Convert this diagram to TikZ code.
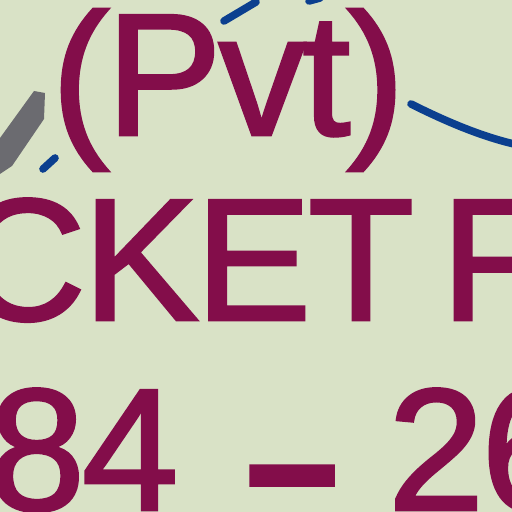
\documentclass[tikz,border=0pt]{standalone}
\usepackage{fontspec}
\setmainfont{Liberation Sans}
\newfontfamily\logofont{Liberation Sans}[FakeBold=1.6, LetterSpace=-2, WordSpace=0.6]
\definecolor{bgcol}{HTML}{D9E2C6}
\definecolor{logored}{HTML}{830D4A}
\definecolor{seamblue}{HTML}{0B3F8F}
\definecolor{wedgegrey}{HTML}{6B6B70}
\newcommand\logodash{\raisebox{-17pt}{\scalebox{0.86}[1.55]{–}}}
\begin{document}
\begin{tikzpicture}[x=0.5pt,y=-0.5pt,
    logotext/.style={text=logored, inner sep=0pt,
      font=\logofont\fontsize{87}{87}\selectfont},
    seam/.style={draw=seamblue, line width=3.8pt, line cap=round}]
    \fill[bgcol] (0,0) rectangle (512,512);
    \useasboundingbox (0,0) rectangle (512,512);
    \clip (0,0) rectangle (512,512);
    % lettering
    \node[logotext, anchor=base] (pvt) at (228,135) {(Pvt)};
    \node[logotext, anchor=base west] (cket) at (-40,320) {CKET F};
    \node[logotext, anchor=base west] (years) at (-12,510)
      {84\kern36pt\logodash\kern27pt 26};
    % ball seam and stitches
    \fill[wedgegrey] (0,138) -- (34,91) -- (45,93) -- (44,119)
      -- (12,166) -- (0,174) -- cycle;
    \draw[seam] (43,169) -- (55,158);
    \draw[seam] (224,21) -- (256,2);
    \draw[seam] (309,1) -- (320,-2);
    \draw[seam] (411,104) .. controls (445,121) and (480,136) .. (514,144);
\end{tikzpicture}
\end{document}
